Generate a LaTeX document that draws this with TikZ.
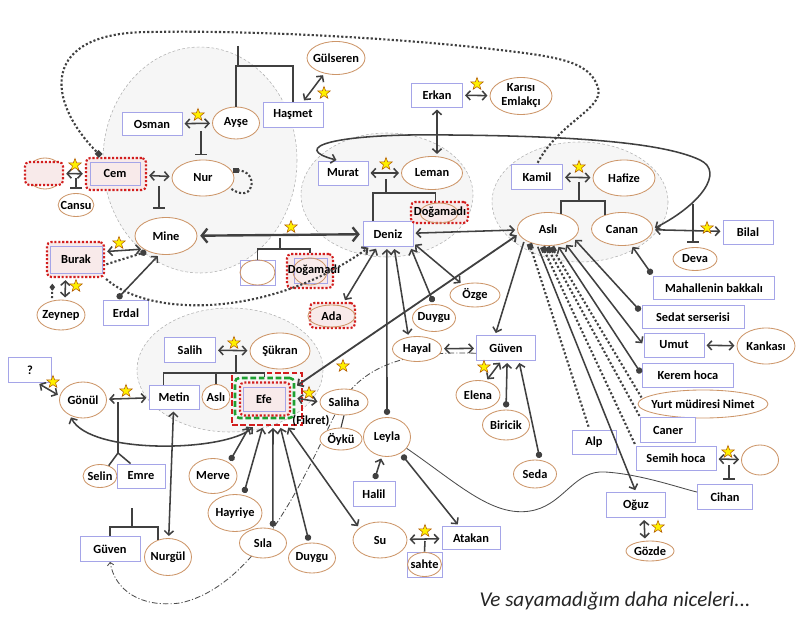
\documentclass[tikz,border=0pt]{standalone}
\usepackage{fontspec}
\setmainfont{Carlito}
\usetikzlibrary{arrows.meta,backgrounds,calc,shapes.geometric}
\definecolor{erkekc}{RGB}{165,165,232}
\definecolor{kadinc}{RGB}{205,150,105}
\definecolor{okc}{RGB}{64,64,64}
\definecolor{kirmizic}{RGB}{210,30,30}
\definecolor{pembe}{RGB}{248,234,234}
\definecolor{yesilc}{RGB}{30,160,50}
\definecolor{grubc}{RGB}{246,246,246}
\definecolor{yildizc}{RGB}{255,240,0}
\newcommand{\pxu}{0.025cm}
\newcommand{\lbl}{\bfseries\fontsize{8.8}{10}\selectfont}
\tikzset{>={Straight Barb[length=3pt,width=6.5pt]},
  ball/.tip={Circle[length=4.5pt]},
  kare/.tip={Square[length=4pt]},
  elmas/.tip={Diamond[length=5pt,width=4pt]},
  tee/.tip={Bar[width=8pt]},
  buyuk/.tip={Straight Barb[length=4pt,width=10pt]},
  kucuk/.tip={Straight Barb[length=2pt,width=4.5pt]}}
\tikzset{erkek/.style 2 args={rectangle,draw=erkekc,line width=0.6pt,fill=white,
    minimum width=#1*\pxu,minimum height=#2*\pxu,inner sep=0pt,font=\lbl},
  kadin/.style 2 args={ellipse,draw=kadinc,line width=0.6pt,fill=white,
    minimum width=#1*\pxu,minimum height=#2*\pxu,inner xsep=-2pt,inner ysep=0pt,font=\lbl},
  cerceve/.style 2 args={rectangle,rounded corners=3pt,draw=kirmizic,line width=1.5pt,
    dash pattern=on 1.5pt off 1.3pt,fill=pembe,minimum width=#1*\pxu,minimum height=#2*\pxu,inner sep=0pt},
  rel/.style={draw=okc,line width=1.1pt,shorten >=1.5pt,shorten <=1.5pt},
  cift/.style={rel,<->},
  kalin/.style={draw=okc,line width=1.7pt,buyuk-buyuk,shorten >=2pt,shorten <=2pt},
  aile/.style={draw=okc,line width=1.1pt},
  tbar/.style={aile,-tee,shorten >=3pt},
  nokta/.style={draw=okc,line width=1.5pt,dash pattern=on 1.5pt off 1.5pt,shorten >=1pt,shorten <=1pt},
  ince/.style={draw=gray!60!black,line width=0.6pt},
  noktacizgi/.style={draw=gray!60!black,line width=0.6pt,dash pattern=on 4pt off 1.5pt on 0.8pt off 1.5pt,-kucuk},
  grup/.style={fill=grubc,draw=gray!60,line width=0.4pt,dash pattern=on 2pt off 1.5pt},
  yildiz/.style={star,star points=5,star point ratio=2.4,fill=yildizc,draw=orange!70!black,
    line width=0.4pt,minimum size=13*\pxu,inner sep=0pt}}

\begin{document}
\begin{tikzpicture}[x=0.025cm,y=-0.025cm]
\useasboundingbox (0,0) rectangle (800,622);
% sol ust aile
\node[erkek={60}{23}] (osman) at (152,124) {Osman};
\node[kadin={47}{32}] (ayse) at (236,123) {Ayşe};
\node[erkek={60}{25}] (hasmet) at (293,115) {Haşmet};
\node[kadin={58}{33}] (gulseren) at (336,58) {Gülseren};
\node[kadin={62}{36}] (nur) at (203,178) {Nur};
\node[kadin={36}{31}] (bos1e) at (45,173.5) {};
\node[cerceve={38}{23}] (bos1) at (44,173.5) {};
\node[cerceve={60}{32}] (cemc) at (116,174) {};
\node[erkek={50}{23},fill=pembe] (cem) at (115,173.5) {Cem};
\node[kadin={34}{23}] (cansu) at (76,205) {Cansu};
\node[kadin={62}{37}] (mine) at (166,236) {Mine};
\node[cerceve={57}{35}] (burakc) at (75.5,259.5) {};
\node[erkek={52}{27},fill=pembe] (burak) at (76,259.5) {Burak};
\node[kadin={48}{30}] (zeynep) at (61,315) {Zeynep};
\node[erkek={45}{25}] (erdal) at (126,313) {Erdal};
\node[erkek={35}{25}] (bos2) at (257.5,272.5) {};
\node[kadin={35}{25},fill=none] (bos2e) at (257.5,272.5) {};
\node[cerceve={46}{34}] (dog2c) at (310,271) {};
\node[erkek={33}{25},fill=none] (dog2b) at (310.5,270.5) {};
\node[kadin={34}{27},fill=none] (dog2e) at (310,271.5) {};
\node[font=\lbl] (dog2) at (314,270) {Doğamadı};
% orta aile
\node[erkek={51}{24}] (erkan) at (437,95) {Erkan};
\node[kadin={62}{37},align=center] (karisi) at (521,96) {Karısı\\Emlakçı};
\node[erkek={50}{24}] (murat) at (343,173) {Murat};
\node[kadin={61}{33}] (leman) at (432,173) {Leman};
\node[erkek={50}{25}] (deniz) at (388,234) {Deniz};
\node[cerceve={57}{21}] (dog1c) at (439.5,212.5) {};
\node[kadin={38}{20},fill=none] (dog1e) at (439,213) {};
\node[font=\lbl] (dog1) at (440,212) {Doğamadı};
\node[cerceve={45}{25}] (adac) at (332.5,315.5) {};
\node[kadin={47}{22},fill=none] (ada) at (331.5,316) {Ada};
\node[kadin={50}{24}] (ozge) at (475,295) {Özge};
\node[kadin={43}{27}] (duygu) at (434,318) {Duygu};
\node[kadin={49}{25}] (hayal) at (417,349) {Hayal};
\node[erkek={59}{25}] (guven) at (506,348) {Güven};
\node[kadin={44}{29}] (elena) at (478,395) {Elena};
\node[kadin={47}{30}] (biricik) at (506,425) {Biricik};
\node[kadin={43}{28}] (seda) at (535,474) {Seda};
\node[kadin={47}{39}] (leyla) at (387,437) {Leyla};
\node[erkek={42}{25}] (halil) at (374,494) {Halil};
\node[kadin={54}{36}] (su) at (380,540) {Su};
\node[erkek={58}{23}] (atakan) at (471,538) {Atakan};
\node[erkek={35}{25}] (sahteb) at (424.5,564.5) {};
\node[kadin={34}{24},fill=none] (sahte) at (424.5,564.5) {sahte};
% sag aile
\node[erkek={51}{25}] (kamil) at (537,177) {Kamil};
\node[kadin={62}{36}] (hafize) at (624,178) {Hafize};
\node[kadin={61}{33}] (asli) at (548,229) {Aslı};
\node[kadin={61}{33}] (canan) at (622,229) {Canan};
\node[erkek={50}{24}] (bilal) at (748,232) {Bilal};
\node[kadin={44}{23}] (deva) at (695,259) {Deva};
\node[erkek={121}{23}] (mah) at (714,288) {Mahallenin bakkalı};
\node[erkek={102}{23}] (sedat) at (693,317) {Sedat serserisi};
\node[erkek={60}{24}] (umut) at (674,345) {Umut};
\node[kadin={58}{36}] (kankasi) at (766,346) {Kankası};
\node[erkek={91}{24}] (kerem) at (688,375) {Kerem hoca};
\node[kadin={130}{28},inner xsep=-5.5pt] (nimet) at (703,404) {Yurt müdiresi Nimet};
\node[erkek={55}{25}] (caner) at (668,430) {Caner};
\node[erkek={80}{24}] (semih) at (676,458) {Semih hoca};
\node[kadin={37}{30}] (bos3) at (760,460) {};
\node[erkek={44}{24}] (alp) at (594,442) {Alp};
\node[erkek={55}{25}] (cihan) at (725,497) {Cihan};
\node[erkek={59}{25}] (oguz) at (636,505) {Oğuz};
\node[kadin={48}{20}] (gozde) at (650,551) {Gözde};
% sol alt aile
\node[erkek={51}{25}] (salih) at (190,350) {Salih};
\node[kadin={60}{36}] (sukran) at (280,351) {Şükran};
\node[erkek={50}{24}] (metin) at (174,397) {Metin};
\node[kadin={28}{25}] (asli2) at (216,397) {Aslı};
\node[draw=kirmizic,line width=1.2pt,dash pattern=on 4pt off 2pt,minimum width=70*\pxu,minimum height=52*\pxu,inner sep=0pt] (efeo) at (267,399) {};
\node[draw=yesilc,line width=1.8pt,dash pattern=on 4pt off 2pt,rounded corners=3pt,minimum width=59*\pxu,minimum height=40*\pxu,inner sep=0pt] (efeg) at (264.5,398) {};
\node[cerceve={50}{33}] (efer) at (265,399) {};
\node[erkek={42}{24},fill=pembe] (efe) at (264,399) {Efe};
\node[font=\lbl] (fikret) at (311,421) {(Fikret)};
\node[kadin={48}{26}] (saliha) at (344,402) {Saliha};
\node[kadin={42}{22}] (oyku) at (341,439) {Öykü};
\node[erkek={43}{25}] (soru) at (30,370) {?};
\node[kadin={47}{36}] (gonul) at (83,400) {Gönül};
\node[kadin={34}{23}] (selin) at (100,476) {Selin};
\node[erkek={48}{24}] (emre) at (141,476) {Emre};
\node[erkek={60}{25}] (guven2) at (110,549) {Güven};
\node[kadin={47}{37}] (nurgul) at (168,557) {Nurgül};
\node[kadin={48}{35}] (merve) at (213,476) {Merve};
\node[kadin={54}{37}] (hayriye) at (235,513) {Hayriye};
\node[kadin={47}{30}] (sila) at (263,543) {Sıla};
\node[kadin={47}{30}] (duygu2) at (312,558) {Duygu};
\node[font=\itshape\fontsize{15}{16}\selectfont,text=black!85] (not) at (615,601) {Ve sayamadığım daha niceleri...};

% sol ust baglar
\coordinate (ahust) at (238,46);
\coordinate (ahj) at (238,66);
\draw[aile] (ahust) -- (ahj);
\draw[aile] (ayse.north) |- (ahj) -| (hasmet.north);
\draw[cift] (osman) -- (ayse);
\coordinate (oa) at (201,131);
\draw[tbar] (oa) -- (oa |- nur.north);
\draw[cift] (hasmet) -- (gulseren);
\draw[cift] (bos1) -- (cemc);
\coordinate (ec) at (76,178);
\draw[tbar] (ec) -- (cansu);
\draw[cift] (cemc) -- (nur);
\coordinate (cn) at (159,186);
\draw[tbar,shorten >=6pt] (cn) -- (cn |- mine.north);
\draw[nokta,kare-] (nur.15) .. controls +(28,0) and +(25,18) .. (nur.-20);
\draw[nokta,-kare] (kamil.north) .. controls (560,120) and (608,108) .. (597,85)
  .. controls (588,62) and (560,57) .. (500,50)
  .. controls (400,38) and (250,30) .. (150,32)
  .. controls (40,32) and (45,100) .. (cemc.130);
\draw[kalin] (mine) -- (deniz);
\coordinate (md) at (280,238);
\coordinate (mdj) at (280,249);
\draw[aile] (md) -- (mdj);
\draw[aile] (bos2.north) |- (mdj) -| (dog2c.north);
\draw[cift] (burakc.15) -- (mine.210);
\draw[nokta,-ball] (burakc.-10) -- (mine.220);
\draw[cift] ($(burakc.south)+(-10,0)$) -- ($(zeynep.north)+(4,0)$);
\draw[nokta,-elmas,shorten >=4pt] ($(zeynep.north)+(-9,0)$) -- ($(burakc.south)+(-23,0)$);
\draw[rel,ball->] ($(erdal.north)+(-10,0)$) -- (mine.250);
\draw[nokta,->] (burakc.south east) .. controls (150,318) and (270,318) .. (deniz.-145);

% orta baglar
\draw[cift] (erkan) -- (karisi);
\draw[cift] (erkan.south) -- (erkan.south |- leman.north);
\draw[cift] (murat) -- (leman);
\coordinate (ml) at (386,179);
\coordinate (mlj) at (386,193);
\draw[aile] (ml) -- (mlj);
\draw[aile] ($(deniz.north)+(-15,0)$) |- (mlj) -| ($(dog1c.north)+(-4,0)$);
\draw[rel,<->] (canan.east) .. controls (700,205) and (725,172) .. (700,160)
  .. controls (660,141) and (560,136) .. (450,135)
  .. controls (330,133) and (290,148) .. (murat.110);
\draw[cift] (deniz) -- (asli);
\draw[cift] (deniz.-130) -- (adac.50);
\draw[rel,ball->] (leyla.north) -- (deniz.-95);
\draw[cift] (deniz.-65) -- (hayal.125);
\draw[rel,ball->] (duygu.north) -- (deniz.-30);
\draw[cift] (deniz.-20) -- (ozge.140);
\draw[cift] (hayal) -- (guven);
\draw[rel,->] (asli.205) -- (guven.130);
\draw[cift] (guven.-110) -- (elena.60);
\draw[rel,ball->] (biricik.north) -- (guven.-85);
\draw[rel,ball->] (seda.70) -- (guven.-45);
\draw[rel,ball->] (halil.north) -- (leyla.-105);
\draw[rel,ball->] (leyla.-50) -- (atakan.135);
\draw[ince] (leyla.-30) .. controls (460,485) and (495,520) .. (535,510)
  .. controls (565,502) and (575,470) .. (605,472)
  .. controls (640,474) and (680,488) .. (cihan.170);
\draw[cift] (su) -- (atakan);
\coordinate (sa) at (425,541);
\draw[aile] (sa) -- (sahteb.north);

% sag baglar
\draw[cift] (kamil) -- (hafize);
\coordinate (kh) at (579,182);
\coordinate (khj) at (579,201);
\draw[aile] (kh) -- (khj);
\draw[aile] (asli.50) |- (khj) -| (canan.140);
\draw[cift] (canan) -- (bilal);
\coordinate (cb) at (693,204);
\draw[tbar] (cb) -- (cb |- deva.north);
\draw[rel,ball->] (mah.north west) -- (canan.-60);
\draw[rel,ball->] (sedat.175) -- (asli.-20);
\draw[cift] (asli.-40) -- (umut.west);
\draw[rel,ball->] (kerem.west) -- (asli.-60);
\draw[cift] (umut) -- (kankasi);
\draw[rel,->] (asli.-125) -- (oguz.north);
\draw[nokta,kare-] (asli.-145) -- (alp.110);
\draw[nokta,kare-] (asli.-110) -- (semih.north west);
\draw[nokta,kare-] (asli.-95) -- (caner.north west);
\draw[nokta,kare-] (asli.-80) -- (nimet.175);
\draw[cift] (semih) -- (bos3);
\coordinate (sc) at (729,465);
\draw[tbar] (sc) -- (sc |- cihan.north);
\draw[cift] ($(oguz.south)+(8,0)$) -- ($(gozde.north)+(-5,0)$);

% sol alt baglar
\draw[cift] (salih) -- (sukran);
\coordinate (ss) at (236,355);
\coordinate (ssj) at (236,373);
\draw[aile] (ss) -- (ssj);
\draw[aile] (metin.130) |- (ssj) -| (efeg.north);
\draw[aile] (asli2.north) -- (asli2.north |- ssj);
\draw[cift,line width=1.3pt] (efeg.20) -- (asli.190);
\draw[cift] (efeg.east) -- (saliha.west);
\draw[aile,line width=0.8pt] (saliha.south) -- (oyku.north);
\draw[cift] (efeo.-115) .. controls (225,452) and (90,455) .. (gonul.-130);
\draw[cift] (gonul) -- (metin);
\draw[cift] (soru.-60) -- (gonul.170);
\coordinate (gm) at (118,402);
\coordinate (gmj) at (118,453);
\draw[aile] (gm) -- (gmj) -- (selin.50);
\draw[aile] (gmj) -- (emre.130);
\draw[cift] (metin) -- (nurgul);
\coordinate (gn) at (132,508);
\coordinate (gnj) at (132,527);
\draw[aile] (gn) -- (gnj);
\draw[aile] (guven2.north) |- (gnj) -| (nurgul.120);
\draw[rel,ball->] (merve.40) -- ($(efeo.south)+(-17,0)$);
\draw[rel,ball->] (hayriye.65) -- ($(efeo.south)+(-4,0)$);
\draw[rel,ball->] (sila.55) -- ($(efeo.south)+(6,0)$);
\draw[rel,ball->] (duygu2.100) -- ($(efeo.south)+(13,0)$);
\draw[cift] ($(efeo.south)+(20,0)$) -- (su.150);

\foreach \p [count=\i] in {(198,115),(324,93),(477,84),(386,164),(579,167),(75,165),
    (291,227),(119,243),(76,286),(707,228),(234,343),(53,382),(126,391),(309,393),
    (343,366),(484,367),(728,452),(658,527),(425,531)}
  \node[yildiz] (y\i) at \p {};

\begin{scope}[on background layer]
  \draw[grup] (200,160) ellipse (97 and 113);
  \draw[grup] (387,195) ellipse (86 and 62);
  \draw[grup] (580,202) ellipse (88 and 60);
  \draw[grup] (230,370) ellipse (93 and 62);
  \draw[noktacizgi] (guven.190) .. controls (400,350) and (360,370) .. (340,405)
    .. controls (315,450) and (265,585) .. (180,603)
    .. controls (140,608) and (115,590) .. (guven2.south);
\end{scope}
\end{tikzpicture}
\end{document}
